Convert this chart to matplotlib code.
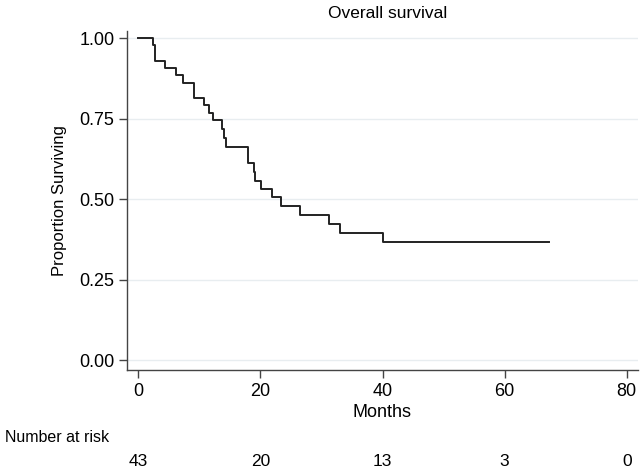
import matplotlib
matplotlib.use("Agg")
import matplotlib.pyplot as plt
import matplotlib.transforms as mtransforms

plt.rcParams['font.family'] = ['Liberation Sans', 'DejaVu Sans']

# Kaplan-Meier step estimates
months = [0, 2.4, 2.8, 4.4, 6.1, 7.4, 9.1, 10.8, 11.5, 12.2, 13.7, 14.0, 14.3,
          18.0, 18.9, 19.1, 20.1, 21.9, 23.4, 26.5, 31.3, 33.1, 40.0, 67.3]
surv = [1.0, 0.977, 0.930, 0.907, 0.884, 0.860, 0.814, 0.791, 0.767, 0.744,
        0.717, 0.690, 0.663, 0.611, 0.583, 0.557, 0.530, 0.506, 0.479, 0.451,
        0.423, 0.394, 0.366, 0.366]

risk_times = [0, 20, 40, 60, 80]
at_risk = [43, 20, 13, 3, 0]

xticks = [0, 20, 40, 60, 80]
yticks = [0.0, 0.25, 0.5, 0.75, 1.0]

fig = plt.figure(figsize=(6.4, 4.69), dpi=100)
ax = fig.add_axes([127 / 640, 99 / 469, 511 / 640, 339 / 469])

ax.step(months, surv, where='post', color='#222222', lw=1.4, zorder=3)

ax.set_xlim(-1.85, 81.85)
ax.set_ylim(-0.031, 1.022)
ax.set_xticks(xticks)
ax.set_yticks(yticks)
ax.set_yticklabels([f"{v:.2f}" for v in yticks])
ax.grid(axis='y', color='#e8edf0', lw=1)
ax.set_axisbelow(True)

for s in ['top', 'right']:
    ax.spines[s].set_visible(False)
for s in ['left', 'bottom']:
    ax.spines[s].set_color('#444444')
    ax.spines[s].set_linewidth(1)
ax.tick_params(axis='both', colors='#444444', labelcolor='black', labelsize=13,
               length=6, width=1, pad=3)

ax.set_xlabel("Months", fontsize=13, labelpad=3)
ax.set_ylabel("Proportion Surviving", fontsize=12, labelpad=9)
ax.set_title("Overall survival", fontsize=12.5, pad=9, x=0.51)

trans = mtransforms.blended_transform_factory(ax.transData, fig.transFigure)
fig.text(5 / 640, 1 - 437 / 469, "Number at risk", fontsize=11.5,
         ha='left', va='center')
for t, n in zip(risk_times, at_risk):
    ax.text(t, 1 - 461 / 469, str(n), transform=trans, fontsize=12.5,
            ha='center', va='center')

fig.savefig("out.png", dpi=100)
